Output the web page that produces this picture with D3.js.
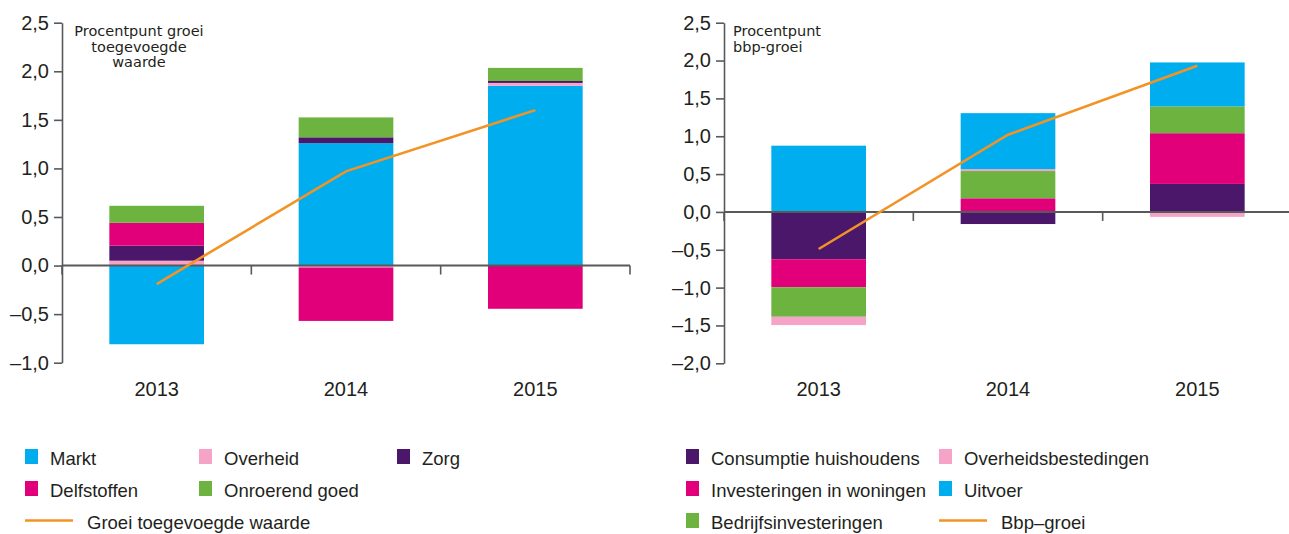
<!DOCTYPE html>
<html>
<head>
<meta charset="utf-8">
<script src="https://cdn.jsdelivr.net/npm/d3@7"></script>
<style>
    body { margin: 0; background: #fff; }
    svg { display: block; font-family: "Liberation Sans", Arial, sans-serif; }
</style>
</head>
<body>
<script>
const years = ["2013", "2014", "2015"];

// Left panel: bijdrage aan groei toegevoegde waarde
const sectorsLeft = ["Markt", "Overheid", "Zorg", "Delfstoffen", "Onroerend goed"];
const markt = [-0.81, 1.26, 1.85];
const overheid = [0.05, -0.02, 0.03];
const zorg = [0.155, 0.06, 0.02];
const delfstoffen = [0.235, -0.55, -0.445];
const onroerendGoed = [0.175, 0.205, 0.135];
const groeiToegevoegdeWaarde = [-0.19, 0.97, 1.60];
const yTicksLeft = [-1, -0.5, 0, 0.5, 1, 1.5, 2, 2.5];

// Right panel: bijdrage aan bbp-groei
const sectorsRight = ["Consumptie huishoudens", "Investeringen in woningen", "Bedrijfsinvesteringen", "Overheidsbestedingen", "Uitvoer"];
const consumptie = [-0.625, -0.16, 0.37];
const woningen = [-0.37, 0.18, 0.67];
const bedrijfsinvesteringen = [-0.39, 0.36, 0.355];
const overheidsbestedingen = [-0.11, 0.025, -0.065];
const uitvoer = [0.875, 0.74, 0.58];
const bbpGroei = [-0.49, 1.02, 1.93];
const yTicksRight = [-2, -1.5, -1, -0.5, 0, 0.5, 1, 1.5, 2, 2.5];

const colors = {
    blue: "#00aeef",
    pink: "#f5a3c7",
    purple: "#4a176b",
    magenta: "#e2007a",
    green: "#6cb33f",
    orange: "#f39325"
};
const textColor = "#231f20";
const axisColor = "#58595b";

const width = 1289;
const height = 534;

const svg = d3.select("body").append("svg")
    .attr("width", width)
    .attr("height", height);

const fmt = v => d3.format(".1f")(v).replace(".", ",").replace("−", "–").replace("-", "–");

function drawPanel(p) {
    const g = svg.append("g");

    const x = d3.scaleBand()
        .domain(years)
        .range(p.xRange)
        .paddingInner(0.5)
        .paddingOuter(0.25);

    const y = d3.scaleLinear()
        .domain(p.yDomain)
        .range(p.yRange);

    // table for the stack
    const rows = years.map((yr, i) => {
        const r = { year: yr };
        p.keys.forEach((k, j) => r[k] = p.values[j][i]);
        return r;
    });

    const stack = d3.stack()
        .keys(p.keys)
        .offset(d3.stackOffsetDiverging);

    const series = stack(rows);

    g.append("g")
        .selectAll("g")
        .data(series)
        .join("g")
        .attr("fill", (d, i) => p.colors[i])
        .selectAll("rect")
        .data(d => d)
        .join("rect")
        .attr("x", d => x(d.data.year))
        .attr("width", x.bandwidth())
        .attr("y", d => y(Math.max(d[0], d[1])))
        .attr("height", d => Math.abs(y(d[0]) - y(d[1])));

    // y axis
    const yAxis = d3.axisLeft(y)
        .tickValues(p.yTicks)
        .tickFormat(fmt)
        .tickSize(8)
        .tickSizeOuter(0)
        .tickPadding(5);

    const ya = g.append("g")
        .attr("transform", `translate(${p.xRange[0]},0)`)
        .call(yAxis);
    ya.select(".domain").attr("stroke", axisColor).attr("stroke-width", 1.6);
    ya.selectAll(".tick line").attr("stroke", axisColor).attr("stroke-width", 1.6);
    ya.selectAll(".tick text")
        .attr("fill", textColor)
        .style("font-size", "20px");

    // zero line with category boundary ticks
    const y0 = y(0);
    g.append("line")
        .attr("x1", p.xRange[0])
        .attr("x2", p.xRange[1])
        .attr("y1", y0)
        .attr("y2", y0)
        .attr("stroke", axisColor)
        .attr("stroke-width", 2);

    const bounds = d3.range(years.length + 1).map(i => p.xRange[0] + i * x.step());
    g.append("g")
        .selectAll("line")
        .data(bounds)
        .join("line")
        .attr("x1", d => d)
        .attr("x2", d => d)
        .attr("y1", y0)
        .attr("y2", y0 + 9)
        .attr("stroke", axisColor)
        .attr("stroke-width", 1.6);

    // category labels
    g.append("g")
        .selectAll("text")
        .data(years)
        .join("text")
        .attr("x", d => x(d) + x.bandwidth() / 2)
        .attr("y", 396)
        .attr("text-anchor", "middle")
        .attr("fill", textColor)
        .style("font-size", "20px")
        .text(d => d);

    // growth line
    const line = d3.line()
        .x((d, i) => x(years[i]) + x.bandwidth() / 2)
        .y(d => y(d));

    g.append("path")
        .datum(p.lineValues)
        .attr("d", line)
        .attr("fill", "none")
        .attr("stroke", colors.orange)
        .attr("stroke-width", 2.6);

    // unit label
    const sub = g.append("text")
        .attr("x", p.subX)
        .attr("y", 36)
        .attr("text-anchor", p.subAnchor)
        .attr("fill", textColor)
        .style("font-family", "'DejaVu Sans', sans-serif")
        .style("font-size", "14.5px");
    sub.selectAll("tspan")
        .data(p.subtitle)
        .join("tspan")
        .attr("x", p.subX)
        .attr("dy", (d, i) => i === 0 ? 0 : 15.5)
        .text(d => d);

    // legend
    const lg = g.append("g");
    p.legend.forEach(item => {
        const lx = p.legendCols[item.col];
        const ly = 449 + item.row * 32;
        if (item.type === "line") {
            lg.append("line")
                .attr("x1", lx)
                .attr("x2", lx + 48)
                .attr("y1", ly + 7.5)
                .attr("y2", ly + 7.5)
                .attr("stroke", item.color)
                .attr("stroke-width", 2.6);
            lg.append("text")
                .attr("x", lx + 62)
                .attr("y", ly + 16)
                .attr("fill", textColor)
                .style("font-size", "18.5px")
                .text(item.label);
        } else {
            lg.append("rect")
                .attr("x", lx)
                .attr("y", ly)
                .attr("width", 13)
                .attr("height", 15)
                .attr("fill", item.color);
            lg.append("text")
                .attr("x", lx + 25)
                .attr("y", ly + 16)
                .attr("fill", textColor)
                .style("font-size", "18.5px")
                .text(item.label);
        }
    });
}

const leftColors = [colors.blue, colors.pink, colors.purple, colors.magenta, colors.green];
drawPanel({
    xRange: [62, 630],
    yDomain: [-1, 2.5],
    yRange: [362.7, 22.7],
    yTicks: yTicksLeft,
    keys: sectorsLeft,
    values: [markt, overheid, zorg, delfstoffen, onroerendGoed],
    colors: leftColors,
    lineValues: groeiToegevoegdeWaarde,
    subtitle: ["Procentpunt groei", "toegevoegde", "waarde"],
    subX: 139,
    subAnchor: "middle",
    legendCols: [25, 199, 397],
    legend: [
        { label: "Markt", color: leftColors[0], row: 0, col: 0 },
        { label: "Overheid", color: leftColors[1], row: 0, col: 1 },
        { label: "Zorg", color: leftColors[2], row: 0, col: 2 },
        { label: "Delfstoffen", color: leftColors[3], row: 1, col: 0 },
        { label: "Onroerend goed", color: leftColors[4], row: 1, col: 1 },
        { label: "Groei toegevoegde waarde", color: colors.orange, row: 2, col: 0, type: "line" }
    ]
});

const rightColors = [colors.purple, colors.magenta, colors.green, colors.pink, colors.blue];
drawPanel({
    xRange: [724, 1292],
    yDomain: [-2, 2.5],
    yRange: [363.3, 22.7],
    yTicks: yTicksRight,
    keys: sectorsRight,
    values: [consumptie, woningen, bedrijfsinvesteringen, overheidsbestedingen, uitvoer],
    colors: rightColors,
    lineValues: bbpGroei,
    subtitle: ["Procentpunt", "bbp-groei"],
    subX: 733,
    subAnchor: "start",
    legendCols: [686, 939],
    legend: [
        { label: "Consumptie huishoudens", color: rightColors[0], row: 0, col: 0 },
        { label: "Overheidsbestedingen", color: rightColors[3], row: 0, col: 1 },
        { label: "Investeringen in woningen", color: rightColors[1], row: 1, col: 0 },
        { label: "Uitvoer", color: rightColors[4], row: 1, col: 1 },
        { label: "Bedrijfsinvesteringen", color: rightColors[2], row: 2, col: 0 },
        { label: "Bbp–groei", color: colors.orange, row: 2, col: 1, type: "line" }
    ]
});
</script>
</body>
</html>
